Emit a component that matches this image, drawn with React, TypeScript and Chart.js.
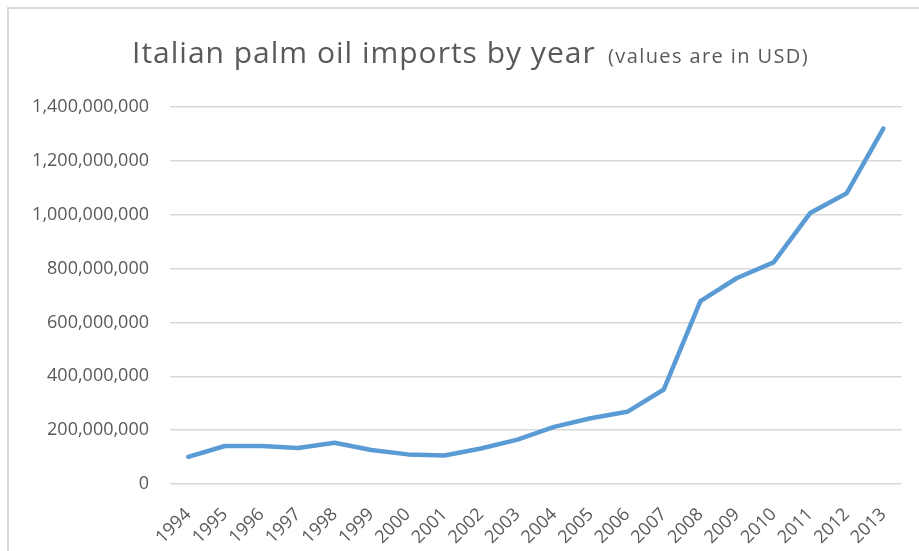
import React, { useEffect, useRef } from "react";
import { Chart, registerables } from "chart.js";

Chart.register(...registerables);

const titleMain = "Italian palm oil imports by year";
const titleSub = "(values are in USD)";
const years = ["1994", "1995", "1996", "1997", "1998", "1999", "2000", "2001", "2002", "2003", "2004", "2005", "2006", "2007", "2008", "2009", "2010", "2011", "2012", "2013"];
const importsUSD = [101e6, 141e6, 141e6, 134e6, 153e6, 126e6, 110e6, 106e6, 132e6, 165e6, 212e6, 244e6, 268e6, 351e6, 679e6, 765e6, 823e6, 1006e6, 1080e6, 1320e6];
const yMin = 0;
const yMax = 1400000000;
const yStep = 200000000;

const FONT = "'Open Sans', 'DejaVu Sans', sans-serif";
const TEXT = "#595959";

const titlePlugin = {
  id: "mixedTitle",
  afterDraw(chart: any) {
    const ctx = chart.ctx;
    ctx.save();
    ctx.fillStyle = TEXT;
    ctx.textBaseline = "alphabetic";
    ctx.textAlign = "left";
    const baseline = 53.5;
    ctx.font = `30px ${FONT}`;
    try { (ctx as any).letterSpacing = "1px"; } catch (e) {}
    ctx.fillText(titleMain, 123, baseline);
    ctx.font = `20px ${FONT}`;
    try { (ctx as any).letterSpacing = "1.4px"; } catch (e) {}
    ctx.fillText(titleSub, 599, baseline);
    ctx.restore();
  },
};

export default function App() {
  const ref = useRef<HTMLCanvasElement | null>(null);
  useEffect(() => {
    if (!ref.current) return;
    const chart = new Chart(ref.current, {
      type: "line",
      data: {
        labels: years,
        datasets: [
          {
            label: "Imports",
            data: importsUSD,
            borderColor: "#5B9BD5",
            backgroundColor: "#5B9BD5",
            borderWidth: 4.5,
            pointRadius: 0,
            tension: 0,
            borderCapStyle: "round",
            borderJoinStyle: "round",
          },
        ],
      },
      plugins: [titlePlugin],
      options: {
        animation: false,
        responsive: false,
        maintainAspectRatio: false,
        layout: { padding: { top: 98, right: 17, bottom: 0, left: 0 } },
        plugins: {
          legend: { display: false },
          title: { display: false },
          tooltip: { enabled: false },
        },
        scales: {
          x: {
            offset: true,
            grid: { display: false, drawTicks: false },
            border: { display: false },
            ticks: {
              minRotation: 45,
              maxRotation: 45,
              autoSkip: false,
              padding: 20,
              color: TEXT,
              font: { family: FONT, size: 18 },
            },
            afterFit(scale: any) {
              scale.height = 67;
            },
          },
          y: {
            min: yMin,
            max: yMax,
            grid: { color: "#d9d9d9", lineWidth: 1.5, drawTicks: false },
            border: { display: false },
            ticks: {
              stepSize: yStep,
              padding: 21,
              color: TEXT,
              font: { family: FONT, size: 18 },
              callback: (v: any) => Number(v).toLocaleString("en-US"),
            },
            afterFit(scale: any) {
              scale.width = 161;
            },
          },
        },
      },
    });
    return () => chart.destroy();
  }, []);
  return (
    <div
      style={{
        position: "absolute",
        left: 7,
        top: 7,
        width: 912,
        height: 544,
        borderTop: "2px solid #d9d9d9",
        borderLeft: "2px solid #d9d9d9",
        background: "#fff",
        overflow: "hidden",
      }}
    >
      <canvas ref={ref} width={910} height={542} style={{ display: "block" }} />
    </div>
  );
}
